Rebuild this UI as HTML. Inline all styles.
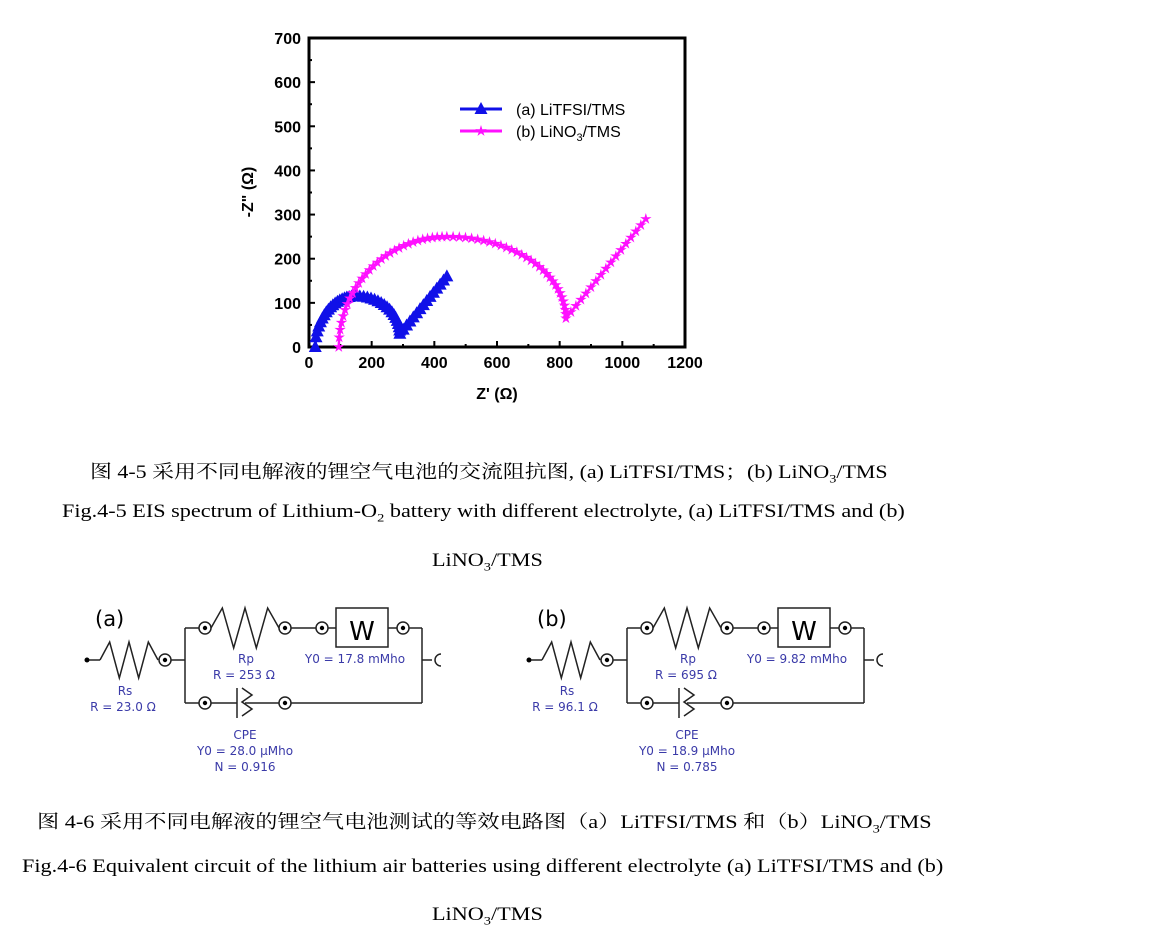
<!DOCTYPE html>
<html><head><meta charset="utf-8"><style>
body{margin:0;background:#fff;width:1152px;height:937px;overflow:hidden;position:relative}
.cap{position:absolute;font-family:"Liberation Serif","Noto Serif CJK SC",serif;font-size:18.5px;color:#000;white-space:nowrap;transform:scaleX(1.2);transform-origin:0 0}
</style></head><body>
<svg id="s" width="1152" height="937" style="position:absolute;left:0;top:0" font-family="Liberation Sans, sans-serif">
<g id="chart"></g>
<g id="circ"></g>
</svg>
<div class="cap" style="left:90px;top:458px;transform:scaleX(1.185)">图 4-5 采用不同电解液的锂空气电池的交流阻抗图, (a) LiTFSI/TMS；(b) LiNO<sub style="font-size:12px">3</sub>/TMS</div>
<div class="cap" style="left:62px;top:502px">Fig.4-5 EIS spectrum of Lithium-O<sub style="font-size:12px">2</sub> battery with different electrolyte, (a) LiTFSI/TMS and (b)</div>
<div class="cap" style="left:432px;top:551px">LiNO<sub style="font-size:12px">3</sub>/TMS</div>
<div class="cap" style="left:37px;top:808px">图 4-6 采用不同电解液的锂空气电池测试的等效电路图（a）LiTFSI/TMS 和（b）LiNO<sub style="font-size:12px">3</sub>/TMS</div>
<div class="cap" style="left:22px;top:857px">Fig.4-6 Equivalent circuit of the lithium air batteries using different electrolyte (a) LiTFSI/TMS and (b)</div>
<div class="cap" style="left:432px;top:905px">LiNO<sub style="font-size:12px">3</sub>/TMS</div>
<script>
const NS="http://www.w3.org/2000/svg";
function el(p,t,a,txt){const e=document.createElementNS(NS,t);for(const k in a)e.setAttribute(k,a[k]);if(txt!==undefined)e.textContent=txt;p.appendChild(e);return e;}
const C=document.getElementById('chart');
const X=v=>309+v*(376/1200), Y=v=>347-v*(309/700);
el(C,'rect',{x:309,y:38,width:376,height:309,fill:'none',stroke:'#000','stroke-width':3});
for(let i=0;i<=7;i++){const y=Y(i*100);el(C,'line',{x1:309,x2:315,y1:y,y2:y,stroke:'#000','stroke-width':2});
 el(C,'text',{x:301,y:y+6,'text-anchor':'end','font-size':16,'font-weight':'bold'},i*100);
 if(i<7){el(C,'line',{x1:309,x2:312,y1:Y(i*100+50),y2:Y(i*100+50),stroke:'#000','stroke-width':2});}}
for(let i=0;i<=6;i++){const x=X(i*200);el(C,'line',{x1:x,x2:x,y1:347,y2:341,stroke:'#000','stroke-width':2});
 el(C,'text',{x:x,y:368,'text-anchor':'middle','font-size':16,'font-weight':'bold'},i*200);
 if(i<6)el(C,'line',{x1:X(i*200+100),x2:X(i*200+100),y1:347,y2:344,stroke:'#000','stroke-width':2});}
el(C,'text',{x:497,y:399,'text-anchor':'middle','font-size':16,'font-weight':'bold'},"Z' (Ω)");
el(C,'text',{x:0,y:0,'text-anchor':'middle','font-size':16,'font-weight':'bold',transform:'translate(253,192) rotate(-90)'},'-Z" (Ω)');
// two quarter ellipses: start (x0,0) -> peak (xp,h) -> end (x1,y1)
function hump(x0,xp,h,x1,y1,n1,n2,pw){const p=[];
 for(let i=0;i<=n1;i++){const t=(Math.PI/2)*Math.pow(i/n1,pw);p.push([xp-(xp-x0)*Math.cos(t),h*Math.sin(t)]);}
 for(let i=1;i<=n2;i++){const t=(Math.PI/2)*(i/n2);p.push([xp+(x1-xp)*Math.sin(t),y1+(h-y1)*Math.cos(t)]);}
 return p;}
let a=hump(20,150,115,290,30,20,18,0.7);
for(let i=1;i<=14;i++)a.push([290+150*i/14,30+130*i/14]);
let b=hump(95,440,250,820,65,30,30,0.85);
for(let i=1;i<=16;i++)b.push([820+255*i/16,65+225*i/16]);
function series(p,col,mk){el(C,'polyline',{points:p.map(q=>X(q[0])+','+Y(q[1])).join(' '),fill:'none',stroke:col,'stroke-width':2.5});
 p.forEach(q=>mk(X(q[0]),Y(q[1])));}
const tri=(x,y,col)=>el(C,'polygon',{points:`${x},${y-7} ${x-6.5},${y+5} ${x+6.5},${y+5}`,fill:col});
const star=(x,y,col)=>{let s='';for(let i=0;i<10;i++){const r=i%2?2.2:6,t=-Math.PI/2+i*Math.PI/5;s+=(x+r*Math.cos(t))+','+(y+r*Math.sin(t))+' ';}el(C,'polygon',{points:s,fill:col});};
series(a,'#1010e8',(x,y)=>tri(x,y,'#1010e8'));
series(b,'#ff10ff',(x,y)=>star(x,y,'#ff10ff'));
el(C,'line',{x1:460,x2:502,y1:109,y2:109,stroke:'#1010e8','stroke-width':3});tri(481,109,'#1010e8');
el(C,'line',{x1:460,x2:502,y1:131,y2:131,stroke:'#ff10ff','stroke-width':3});star(481,131,'#ff10ff');
el(C,'text',{x:516,y:115,'font-size':16},'(a)  LiTFSI/TMS');
const t2=el(C,'text',{x:516,y:137,'font-size':16},'(b)  LiNO');el(t2,'tspan',{'font-size':11,dy:4},'3');el(t2,'tspan',{dy:-4},'/TMS');
const G=document.getElementById('circ');
function circuit(dx,lab,v){const g=el(G,'g',{transform:`translate(${dx},0)`,stroke:'#222','stroke-width':1.5,fill:'none'});
 const L=(x1,y1,x2,y2)=>el(g,'line',{x1,y1,x2,y2});
 const node=(x,y)=>{el(g,'circle',{cx:x,cy:y,r:6,fill:'#fff'});el(g,'circle',{cx:x,cy:y,r:2.2,fill:'#000',stroke:'none'});};
 const zig=(x0,x1,y,a)=>{let s=`${x0},${y} `;const n=6;for(let i=1;i<n;i++)s+=`${x0+(x1-x0)*i/n},${y+(i%2?-a:a)} `;s+=`${x1},${y}`;el(g,'polyline',{points:s});};
 el(g,'circle',{cx:87,cy:660,r:2.5,fill:'#000',stroke:'none'});L(89,660,100,660);zig(100,158,660,18);node(165,660);
 L(171,660,185,660);L(185,628,185,703);L(185,628,199,628);node(205,628);zig(211,279,628,20);node(285,628);
 L(291,628,316,628);node(322,628);L(328,628,336,628);el(g,'rect',{x:336,y:608,width:52,height:39});L(388,628,397,628);node(403,628);
 L(409,628,422,628);L(422,628,422,703);L(422,660,432,660);el(g,'path',{d:'M441,654 A6,6 0 1 0 441,666'});
 L(185,703,199,703);node(205,703);L(211,703,237,703);L(237,688,237,718);L(245,703,279,703);
 el(g,'polyline',{points:'242,688 252,695 242,702 252,709 242,716'});node(285,703);L(291,703,422,703);
 el(g,'text',{x:362,y:640,'text-anchor':'middle','font-size':26,fill:'#000',stroke:'none','font-family':'DejaVu Sans, sans-serif'},'W');
 el(g,'text',{x:95,y:626,'font-size':21,fill:'#000',stroke:'none','font-family':'DejaVu Sans, sans-serif'},lab);
 const T=(x,y,s)=>el(g,'text',{x,y,'text-anchor':'middle','font-size':12,fill:'#3a3aa8',stroke:'none','font-family':'DejaVu Sans, sans-serif'},s);
 T(246,663,'Rp');T(244,679,v[0]);T(355,663,v[1]);T(125,695,'Rs');T(123,711,v[2]);T(245,739,'CPE');T(245,755,v[3]);T(245,771,v[4]);}
circuit(0,'(a)',['R = 253 Ω','Y0 = 17.8 mMho','R = 23.0 Ω','Y0 = 28.0 µMho','N = 0.916']);
circuit(442,'(b)',['R = 695 Ω','Y0 = 9.82 mMho','R = 96.1 Ω','Y0 = 18.9 µMho','N = 0.785']);
</script>
</body></html>
